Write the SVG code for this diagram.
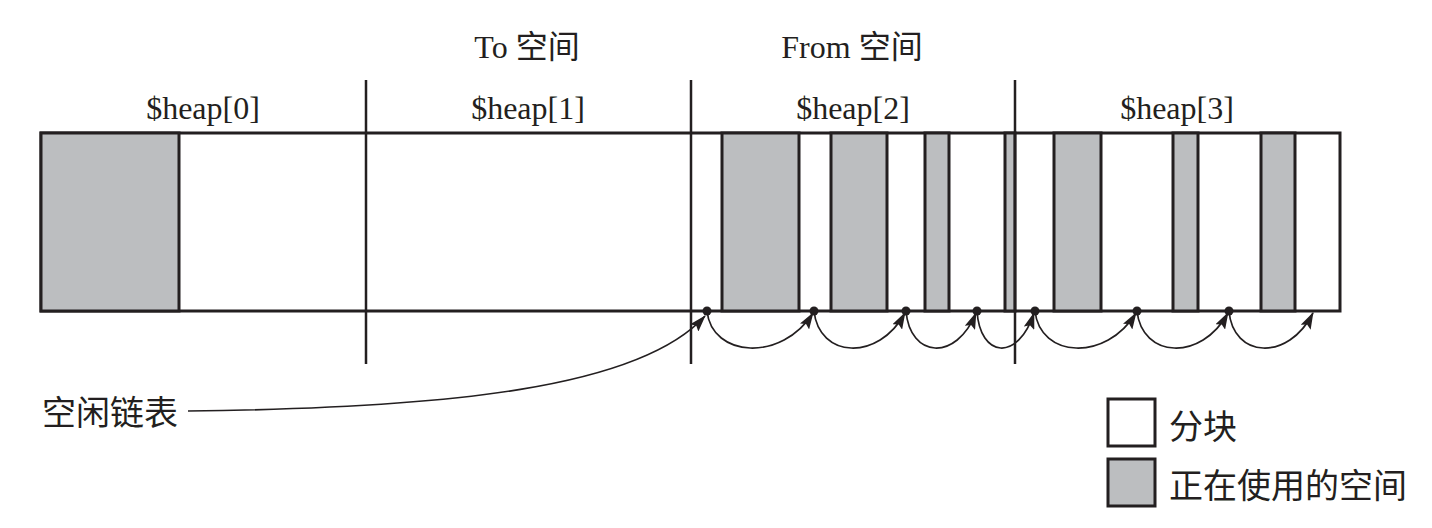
<svg xmlns="http://www.w3.org/2000/svg" width="1432" height="528" viewBox="0 0 1432 528">
<style>
.lbl{font-family:"Liberation Serif","Noto Sans CJK SC",serif;font-size:32px;fill:#231f20;text-anchor:middle}
.cjk{font-family:"Liberation Serif","Noto Sans CJK SC",serif;font-size:34px;fill:#231f20}
.used{fill:#bcbec0;stroke:#231f20;stroke-width:3}
.free{fill:#ffffff;stroke:#231f20;stroke-width:3}
.div{stroke:#231f20;stroke-width:2.5;fill:none}
.arc{stroke:#231f20;stroke-width:1.7;fill:none;marker-end:url(#ah)}
.dot{fill:#231f20}
</style>
<defs>
<marker id="ah" viewBox="0 0 17 11" refX="16" refY="5.5" markerWidth="17" markerHeight="11" markerUnits="userSpaceOnUse" orient="auto">
<path d="M0,0 L17,5.5 L0,11 L3,5.5 Z" fill="#231f20"/>
</marker>
</defs>
<rect width="1432" height="528" fill="#ffffff"/>
<g id="titles">
<text class="lbl" x="527" y="58">To 空间</text>
<text class="lbl" x="852" y="58">From 空间</text>
</g>
<g id="heap-bar">
<rect class="free" x="41" y="133" width="1299" height="178"/>
</g>
<g id="heap0">
<text class="lbl" x="203" y="119">$heap[0]</text>
<rect class="used" x="41" y="133" width="138" height="178"/>
</g>
<g id="heap1">
<text class="lbl" x="528" y="119">$heap[1]</text>
</g>
<g id="heap2">
<text class="lbl" x="853" y="119">$heap[2]</text>
<rect class="used" x="722" y="133" width="77" height="178"/>
<rect class="used" x="831" y="133" width="56" height="178"/>
<rect class="used" x="925" y="133" width="24" height="178"/>
<rect class="used" x="1005" y="133" width="10" height="178"/>
</g>
<g id="heap3">
<text class="lbl" x="1177" y="119">$heap[3]</text>
<rect class="used" x="1054" y="133" width="47" height="178"/>
<rect class="used" x="1173" y="133" width="25" height="178"/>
<rect class="used" x="1261" y="133" width="34" height="178"/>
</g>
<g id="dividers">
<line class="div" x1="366" y1="80" x2="366" y2="364"/>
<line class="div" x1="691" y1="80" x2="691" y2="364"/>
<line class="div" x1="1015" y1="80" x2="1015" y2="364"/>
</g>
<g id="connectors">
<path class="arc" d="M188,411 C450,408 640,388 705,316"/>
<path class="arc" d="M707,311 C712,358 782,362 813,313"/>
<path class="arc" d="M814,311 C819,358 878,362 905,313"/>
<path class="arc" d="M906,311 C910,358 956,362 976,313"/>
<path class="arc" d="M977,311 C980,358 1018,362 1034,313"/>
<path class="arc" d="M1035,311 C1040,358 1106,362 1136,313"/>
<path class="arc" d="M1137,311 C1142,358 1201,362 1228,313"/>
<path class="arc" d="M1229,311 C1233,358 1288,362 1313,313"/>
<circle class="dot" cx="707" cy="311" r="4.5"/>
<circle class="dot" cx="814" cy="311" r="4.5"/>
<circle class="dot" cx="906" cy="311" r="4.5"/>
<circle class="dot" cx="977" cy="311" r="4.5"/>
<circle class="dot" cx="1035" cy="311" r="4.5"/>
<circle class="dot" cx="1137" cy="311" r="4.5"/>
<circle class="dot" cx="1229" cy="311" r="4.5"/>
</g>
<g id="freelist-label">
<text class="cjk" x="42" y="425">空闲链表</text>
</g>
<g id="legend">
<rect class="free" x="1108" y="399" width="47" height="47"/>
<text class="cjk" x="1169" y="439">分块</text>
<rect class="used" x="1108" y="459" width="47" height="47"/>
<text class="cjk" x="1169" y="498">正在使用的空间</text>
</g>
</svg>
